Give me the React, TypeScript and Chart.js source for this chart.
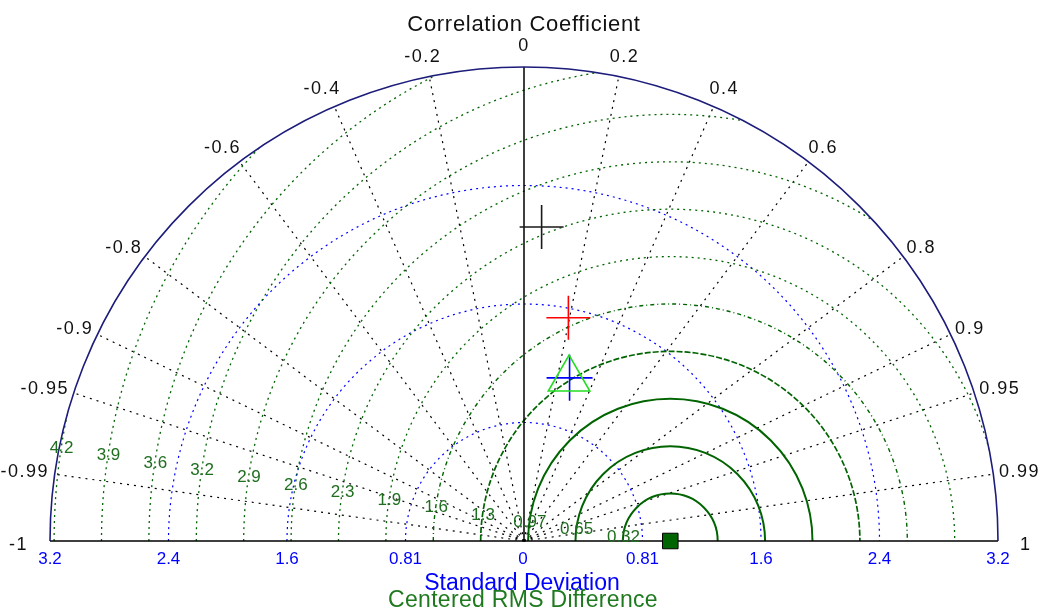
import React, { useEffect, useRef } from 'react';
import { Chart, registerables } from 'chart.js';

Chart.register(...registerables);

// ---- data ----
const REF_STD = 1.0;
const STD_MAX = 3.24;
const stdTicks = [0.81, 1.62, 2.43, 3.24];
const stdTickLabels = ['0.81', '1.6', '2.4', '3.2'];
const corrTicks = [-1, -0.99, -0.95, -0.9, -0.8, -0.6, -0.4, -0.2, 0, 0.2, 0.4, 0.6, 0.8, 0.9, 0.95, 0.99, 1];
const corrTickLabels = ['-1', '-0.99', '-0.95', '-0.9', '-0.8', '-0.6', '-0.4', '-0.2', '0', '0.2', '0.4', '0.6', '0.8', '0.9', '0.95', '0.99', '1'];
const rmsLevels = [0.324, 0.648, 0.972, 1.296, 1.62, 1.944, 2.268, 2.592, 2.916, 3.24, 3.564, 3.888, 4.212];
const rmsLabels = ['0.32', '0.65', '0.97', '1.3', '1.6', '1.9', '2.3', '2.6', '2.9', '3.2', '3.6', '3.9', '4.2'];
const modelStd = [2.15, 1.556, 1.149, 1.158];
const modelCorr = [0.056, 0.195, 0.268, 0.269];
const modelColors = ['#1a1a1a', '#ff0000', '#22dd22', '#0000ff'];
const modelStyles = ['cross', 'cross', 'triangle', 'cross'];
const modelRadius = [22, 22, 24, 23];

const FONT = '"Liberation Sans", Arial, sans-serif';
const GREEN = '#006400';

function polar(std: number, corr: number) {
  return { x: std * corr, y: std * Math.sqrt(Math.max(0, 1 - corr * corr)) };
}

const taylorGrid = {
  id: 'taylorGrid',
  beforeDatasetsDraw(chart: any) {
    const { ctx, scales } = chart;
    const xs = scales.x, ys = scales.y;
    const cx = xs.getPixelForValue(0);
    const cy = ys.getPixelForValue(0);
    const ppu = xs.getPixelForValue(1) - cx;
    const R = STD_MAX * ppu;
    ctx.save();

    // blue std arcs
    ctx.strokeStyle = '#0000ff';
    ctx.lineWidth = 1.2;
    ctx.setLineDash([2, 4]);
    stdTicks.forEach((t) => {
      if (t >= STD_MAX) return;
      ctx.beginPath();
      ctx.arc(cx, cy, t * ppu, Math.PI, 2 * Math.PI);
      ctx.stroke();
    });

    // radial correlation lines
    ctx.strokeStyle = '#000';
    ctx.lineWidth = 1.2;
    ctx.setLineDash([2, 5]);
    corrTicks.forEach((c) => {
      if (c === 0 || Math.abs(c) === 1) return;
      const a = Math.acos(c);
      ctx.beginPath();
      ctx.moveTo(cx, cy);
      ctx.lineTo(cx + R * Math.cos(a), cy - R * Math.sin(a));
      ctx.stroke();
    });

    // green RMS arcs, clipped to the semicircle
    ctx.save();
    ctx.beginPath();
    ctx.arc(cx, cy, R, Math.PI, 2 * Math.PI);
    ctx.closePath();
    ctx.clip();
    const rx = xs.getPixelForValue(REF_STD);
    ctx.strokeStyle = GREEN;
    rmsLevels.forEach((r, i) => {
      if (i < 3) { ctx.lineWidth = 2; ctx.setLineDash([]); }
      else if (i === 3) { ctx.lineWidth = 1.7; ctx.setLineDash([6, 2]); }
      else if (i === 4) { ctx.lineWidth = 1.4; ctx.setLineDash([4, 3, 1, 3]); }
      else { ctx.lineWidth = 1.3; ctx.setLineDash([2, 4]); }
      ctx.beginPath();
      ctx.arc(rx, cy, r * ppu, Math.PI, 2 * Math.PI);
      ctx.stroke();
    });
    ctx.restore();

    // axes
    ctx.setLineDash([]);
    ctx.strokeStyle = '#000';
    ctx.lineWidth = 1.5;
    ctx.beginPath();
    ctx.moveTo(cx - R, cy);
    ctx.lineTo(cx + R, cy);
    ctx.moveTo(cx, cy);
    ctx.lineTo(cx, cy - R);
    ctx.stroke();
    ctx.strokeStyle = '#1c1c7a';
    ctx.lineWidth = 1.6;
    ctx.beginPath();
    ctx.arc(cx, cy, R, Math.PI, 2 * Math.PI);
    ctx.stroke();

    // correlation tick labels
    ctx.fillStyle = '#111';
    ctx.font = `18px ${FONT}`;
    (ctx as any).letterSpacing = '1.5px';
    ctx.textAlign = 'center';
    ctx.textBaseline = 'middle';
    corrTicks.forEach((c, i) => {
      const a = Math.acos(c);
      const s = Math.sin(a), co = Math.cos(a);
      const label = corrTickLabels[i];
      const w = ctx.measureText(label).width;
      const h = 13;
      let gap = 6 + 8 * s * s * s;
      let dy = 0;
      if (Math.abs(c) === 1) { gap = 22; dy = 4; }
      const ax = cx + (R + gap) * co;
      const ay = cy - (R + gap) * s;
      ctx.fillText(label, ax + (w / 2) * co, ay - (h / 2) * s + dy);
    });

    // std tick labels
    ctx.fillStyle = '#0000ff';
    ctx.font = `17px ${FONT}`;
    (ctx as any).letterSpacing = '0px';
    ctx.fillText('0', cx - 1, cy + 18);
    stdTicks.forEach((t, i) => {
      ctx.fillText(stdTickLabels[i], cx + t * ppu, cy + 18);
      ctx.fillText(stdTickLabels[i], cx - t * ppu, cy + 18);
    });

    // RMS labels
    ctx.fillStyle = '#1f6e1f';
    const th = (171 * Math.PI) / 180;
    rmsLevels.forEach((r, i) => {
      const px = rx + r * ppu * Math.cos(th);
      const py = cy - r * ppu * Math.sin(th) + 3.5;
      ctx.fillText(rmsLabels[i], px, py);
    });

    // titles
    ctx.textBaseline = 'alphabetic';
    ctx.fillStyle = '#111';
    ctx.font = `22px ${FONT}`;
    (ctx as any).letterSpacing = '0.7px';
    ctx.fillText('Correlation Coefficient', cx, 31);
    ctx.fillStyle = '#0000ff';
    ctx.font = `23px ${FONT}`;
    (ctx as any).letterSpacing = '0px';
    ctx.fillText('Standard Deviation', cx - 2, 590);
    ctx.fillStyle = '#1f7a1f';
    (ctx as any).letterSpacing = '0.3px';
    ctx.fillText('Centered RMS Difference', cx - 1, 607);
    (ctx as any).letterSpacing = '0px';
    ctx.restore();
  },
};

export default function App() {
  const ref = useRef<HTMLCanvasElement | null>(null);
  useEffect(() => {
    if (!ref.current) return;
    const models = modelStd.map((s, i) => ({
      label: 'model' + (i + 1),
      data: [polar(s, modelCorr[i])],
      pointStyle: modelStyles[i] as any,
      pointRadius: modelRadius[i],
      pointBorderColor: modelColors[i],
      pointBackgroundColor: 'rgba(0,0,0,0)',
      pointBorderWidth: 1.6,
      clip: false as any,
    }));
    const chart = new Chart(ref.current, {
      type: 'scatter',
      data: {
        datasets: [
          {
            label: 'reference',
            data: [polar(REF_STD, 1)],
            pointStyle: 'rect',
            pointRadius: 11,
            pointBackgroundColor: GREEN,
            pointBorderColor: '#000',
            pointBorderWidth: 1,
            clip: false as any,
          },
          ...models,
        ],
      },
      options: {
        animation: false,
        responsive: false,
        maintainAspectRatio: false,
        layout: { padding: { left: 50, right: 42, top: 67, bottom: 69 } },
        scales: {
          x: { type: 'linear', min: -STD_MAX, max: STD_MAX, display: false },
          y: { type: 'linear', min: 0, max: STD_MAX, display: false },
        },
        plugins: { legend: { display: false }, tooltip: { enabled: false } },
      },
      plugins: [taylorGrid],
    });
    return () => chart.destroy();
  }, []);
  return (
    <div style={{ position: 'fixed', left: 0, top: 0, width: 1040, height: 610, background: '#fff' }}>
      <canvas ref={ref} width={1040} height={610} style={{ display: 'block' }} />
    </div>
  );
}
